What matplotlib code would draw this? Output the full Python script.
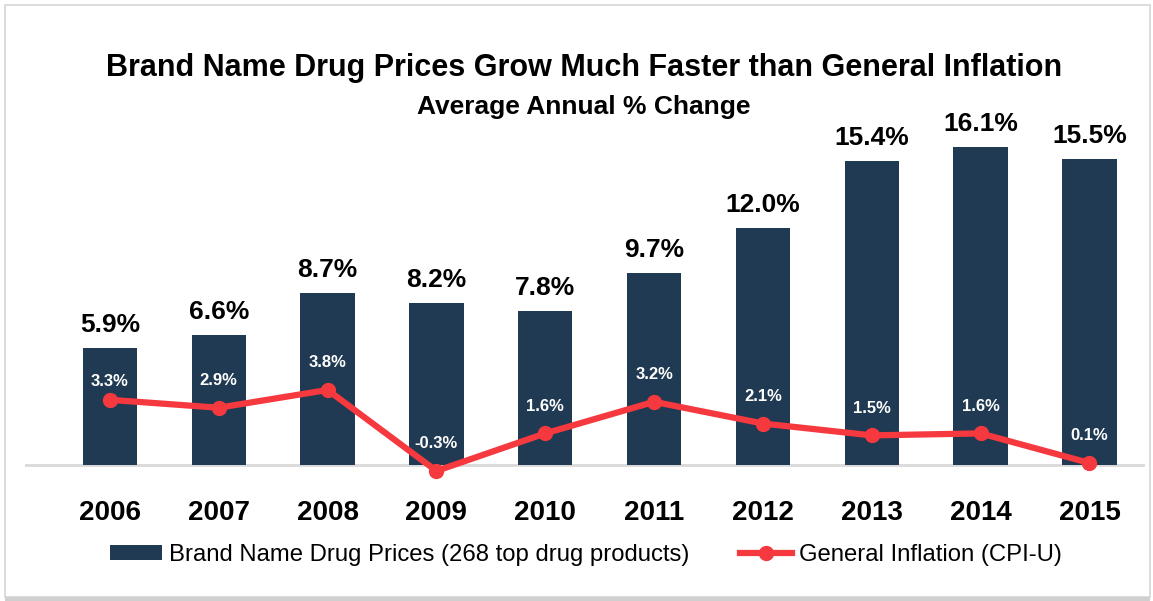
import matplotlib.pyplot as plt
from matplotlib.patches import Rectangle
from matplotlib.lines import Line2D
from matplotlib.patches import Patch

years = ['2006', '2007', '2008', '2009', '2010', '2011', '2012', '2013', '2014', '2015']
drug_prices = [5.9, 6.6, 8.7, 8.2, 7.8, 9.7, 12.0, 15.4, 16.1, 15.5]
inflation = [3.3, 2.9, 3.8, -0.3, 1.6, 3.2, 2.1, 1.5, 1.6, 0.1]

bar_color = '#1f3a52'
line_color = '#f5393e'
plt.rcParams['font.family'] = ['Liberation Sans', 'DejaVu Sans']

W, H = 1153, 601
fig = plt.figure(figsize=(W / 100, H / 100), dpi=100)

# axes placed in pixel terms: baseline ~465px, ~19.75 px per %
y0, y1 = -1.5, 17.5
bottom_px = 465 + 1.5 * 19.75
top_px = 465 - 17.5 * 19.75
ax = fig.add_axes([25 / W, 1 - bottom_px / H, (1145 - 25) / W, (bottom_px - top_px) / H])
ax.set_xlim(-0.78, 9.51)
ax.set_ylim(y0, y1)
ax.axis('off')

x = range(len(years))
ax.bar(x, drug_prices, width=0.5, color=bar_color, zorder=2)
ax.axhline(0, color='#d9d9d9', lw=2, zorder=1)
ax.plot(x, inflation, color=line_color, lw=4.5, marker='o', markersize=10,
        zorder=3, solid_capstyle='round')

for i, v in enumerate(drug_prices):
    ax.annotate(f'{v:.1f}%', (i, v), xytext=(0, 8), textcoords='offset points',
                ha='center', va='bottom', fontsize=19, fontweight='bold', color='black')
for i, v in enumerate(inflation):
    dy = 13 if i == 0 else 19.5
    ax.annotate(f'{v:.1f}%', (i, v), xytext=(0, dy), textcoords='offset points',
                ha='center', va='center', fontsize=12, fontweight='bold', color='white', zorder=4)
for i, yr in enumerate(years):
    ax.text(i, -2.45, yr, ha='center', va='center', fontsize=20, fontweight='bold',
            clip_on=False)

fig.text(584 / W, 1 - 68 / H, 'Brand Name Drug Prices Grow Much Faster than General Inflation',
         ha='center', va='center', fontsize=22, fontweight='bold')
fig.text(584 / W, 1 - 107 / H, 'Average Annual % Change',
         ha='center', va='center', fontsize=19, fontweight='bold')

handles = [Patch(facecolor=bar_color, edgecolor='none'),
           Line2D([0], [0], color=line_color, lw=4.5, marker='o', markersize=10)]
labels = ['Brand Name Drug Prices (268 top drug products)', 'General Inflation (CPI-U)']
fig.legend(handles, labels, loc='center', bbox_to_anchor=(586 / W, 1 - 555 / H), ncol=2,
           frameon=False, fontsize=17.2, handlelength=2.18, handleheight=0.6,
           handletextpad=0.3, columnspacing=2.1)

# outer frame of the picture
fig.patches.append(Rectangle((5 / W, 4 / H), 1145 / W, 592 / H, transform=fig.transFigure,
                             fill=False, edgecolor='#d6d6d6', lw=1.2))
fig.patches.append(Rectangle((5 / W, 0), 1145 / W, 4 / H, transform=fig.transFigure,
                             facecolor='#cfcfcf', edgecolor='none'))

fig.savefig('out.png', dpi=100)
